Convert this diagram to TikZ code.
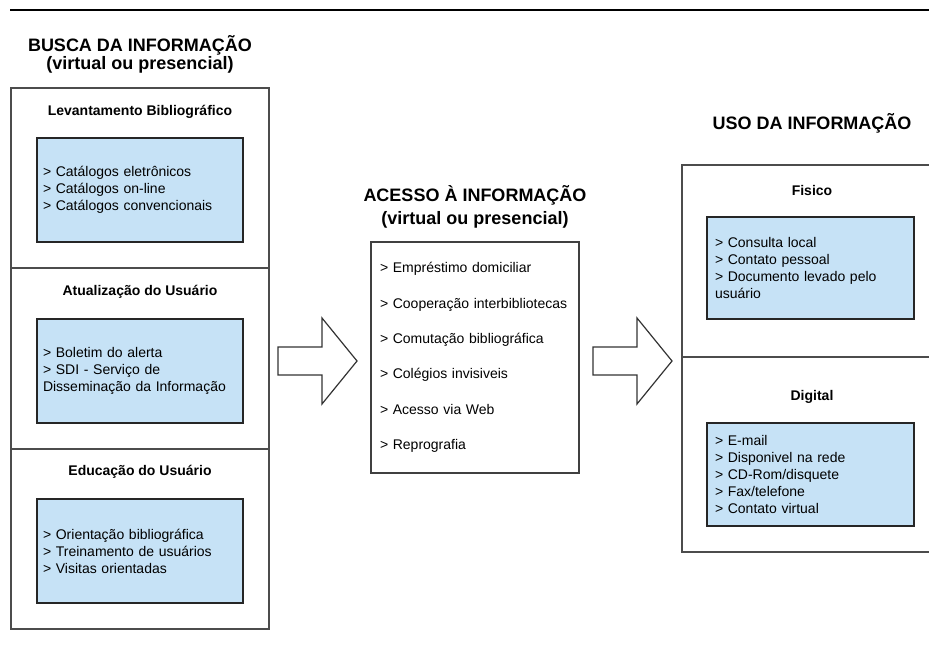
\documentclass[tikz,border=0pt]{standalone}
\usepackage{fontspec}
\setmainfont{Liberation Sans}
\usetikzlibrary{positioning}
\definecolor{azulclaro}{RGB}{198,226,246}
\tikzset{painel/.style={draw=black!70, line width=1.2pt, minimum width=258pt, inner sep=0pt, outer sep=0pt}}
\tikzset{caixa/.style={draw=black!85, fill=azulclaro, line width=1.2pt, inner xsep=6pt, inner ysep=0pt, text width=194pt, minimum height=104pt, align=left, font=\fontsize{14}{17}\selectfont}}
\tikzset{titulo/.style={font=\bfseries\fontsize{18}{18}\selectfont, align=center, inner sep=0pt}}
\tikzset{subtitulo/.style={font=\bfseries\fontsize{14}{17}\selectfont, inner sep=0pt}}
\tikzset{seta/.style={draw=black!80, line width=1.2pt, fill=white}}

\begin{document}
\begin{tikzpicture}[x=1pt, y=-1pt]
    \clip (0,0) rectangle (929,646);
    \fill[white] (0,0) rectangle (929,646);
    \draw[line width=2.5pt] (10,10) -- (929,10);

    % busca
    \node[titulo] (busca) at (140,54) {BUSCA DA INFORMAÇÃO\\(virtual ou presencial)};
    \node[painel, minimum height=180pt] (lev) at (140,178) {};
    \node[painel, minimum height=181pt, below=0pt of lev] (atu) {};
    \node[painel, minimum height=180pt, below=0pt of atu] (edu) {};

    \node[subtitulo] (levt) at (140,112) {Levantamento Bibliográfico};
    \node[caixa] (levc) at (140,190) {> Catálogos eletrônicos\\> Catálogos on-line\\> Catálogos convencionais};
    \node[subtitulo] (atut) at (140,292) {Atualização do Usuário};
    \node[caixa] (atuc) at (140,371) {> Boletim do alerta\\> SDI - Serviço de\\Disseminação da Informação};
    \node[subtitulo] (edut) at (140,472) {Educação do Usuário};
    \node[caixa] (educ) at (140,551) {> Orientação bibliográfica\\> Treinamento de usuários\\> Visitas orientadas};

    % acesso
    \node[titulo, font=\bfseries\fontsize{18}{23}\selectfont] (acesso) at (475,206.5) {ACESSO À INFORMAÇÃO\\(virtual ou presencial)};
    \node[caixa, fill=white, draw=black!75, inner xsep=9pt, text width=190pt, minimum height=231pt,
          font=\fontsize{14}{35.4}\selectfont] (lista) at (475,357.5)
          {> Empréstimo domiciliar\\> Cooperação interbibliotecas\\> Comutação bibliográfica\\> Colégios invisiveis\\> Acesso via Web\\> Reprografia};

    % uso
    \node[titulo] (uso) at (812,123) {USO DA INFORMAÇÃO};
    \node[painel, minimum width=257pt, minimum height=192pt] (fis) at (810.5,261) {};
    \node[painel, minimum width=257pt, minimum height=195pt, below=0pt of fis] (dig) {};

    \node[subtitulo] (fist) at (812,190) {Fisico};
    \node[caixa, inner xsep=8pt, text width=191pt, minimum height=102pt] (fisc) at (810.5,268)
          {> Consulta local\\> Contato pessoal\\> Documento levado pelo\\usuário};
    \node[subtitulo] (digt) at (812,397) {Digital};
    \node[caixa, inner xsep=8pt, text width=191pt, minimum height=103pt] (digc) at (810.5,474.5)
          {> E-mail\\> Disponivel na rede\\> CD-Rom/disquete\\> Fax/telefone\\> Contato virtual};

    % setas
    \foreach \x in {278,593}
        \draw[seta] (\x,347) -- ++(44,0) -- ++(0,-29) -- ++(35,43) -- ++(-35,43) -- ++(0,-29) -- ++(-44,0) -- cycle;
\end{tikzpicture}
\end{document}
